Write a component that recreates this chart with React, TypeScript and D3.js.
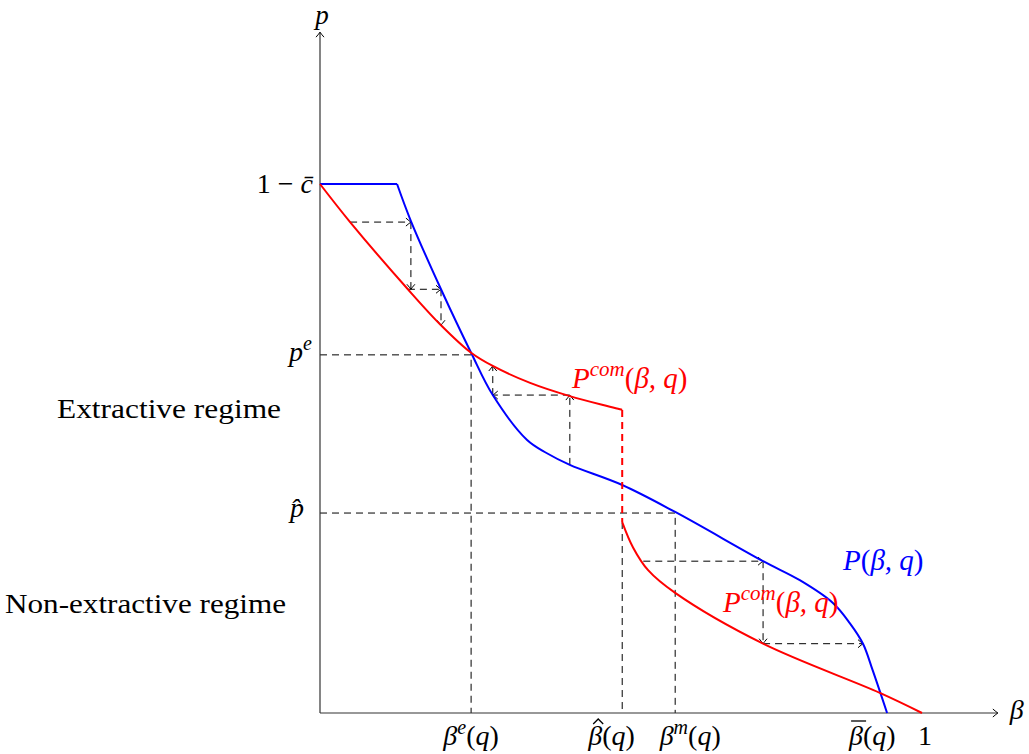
import React from "react";
import * as d3 from "d3";

const width = 1029;
const height = 754;

// beta on x, p on y (1 - c̄ taken as 1)
const blueFlatBeta = [0, 0.128];
const blueFlatP = [1.0, 1.0];
const blueBeta = [0.128, 0.151, 0.201, 0.251, 0.287, 0.344, 0.377, 0.415, 0.502, 0.59, 0.736, 0.797, 0.852, 0.88, 0.902, 0.918, 0.942];
const blueP = [1.0, 0.93, 0.801, 0.681, 0.601, 0.516, 0.491, 0.469, 0.431, 0.38, 0.287, 0.251, 0.208, 0.170, 0.131, 0.081, 0];

const redHighBeta = [0, 0.05, 0.146, 0.201, 0.251, 0.287, 0.349, 0.415, 0.502];
const redHighP = [1.0, 0.928, 0.801, 0.733, 0.681, 0.656, 0.624, 0.599, 0.573];
const redLowBeta = [0.502, 0.52, 0.545, 0.59, 0.736, 0.93, 1.0];
const redLowP = [0.361, 0.313, 0.27, 0.227, 0.131, 0.038, 0];

const pE = 0.677;
const pHat = 0.378;
const betaE = 0.251;
const betaHat = 0.502;
const betaM = 0.59;
const betaBar = 0.942;

// cobweb steps: [beta1, p1, beta2, p2]
const steps = [
    [0.05, 0.928, 0.151, 0.928],
    [0.151, 0.928, 0.151, 0.801],
    [0.146, 0.801, 0.201, 0.801],
    [0.201, 0.801, 0.201, 0.733],
    [0.415, 0.469, 0.415, 0.601],
    [0.415, 0.601, 0.287, 0.601],
    [0.287, 0.601, 0.287, 0.656],
    [0.537, 0.287, 0.736, 0.287],
    [0.736, 0.287, 0.736, 0.131],
    [0.736, 0.131, 0.902, 0.131],
];

const x = d3.scaleLinear().domain([0, 1]).range([320, 922]);
const y = d3.scaleLinear().domain([0, 1]).range([713, 184]);

const straight = d3.line<number[]>().x(d => x(d[0])).y(d => y(d[1]));
const smooth = d3.line<number[]>().x(d => x(d[0])).y(d => y(d[1])).curve(d3.curveCatmullRom.alpha(0.5));

const zip = (a: number[], b: number[]) => a.map((v, i) => [v, b[i]]);

const font = "'Liberation Serif', 'DejaVu Serif', 'Times New Roman', serif";
const dash = "7,5";

function App() {
    const x0 = x(0), y0 = y(0);
    const hatX = x(betaHat) - 34;
    const barX = x(betaBar) - 38;
    return (
        <svg width={width} height={height} style={{position: "absolute", left: 0, top: 0, fontFamily: font}}>
            <defs>
                <marker id="tip" viewBox="-8 -6 10 12" markerWidth={10} markerHeight={12} refX={0} refY={0}
                        orient="auto" markerUnits="userSpaceOnUse">
                    <path d="M -5 -4 Q -1.5 -1 0 0 Q -1.5 1 -5 4" fill="none" stroke="#000" strokeWidth={1}/>
                </marker>
            </defs>

            {/* guides */}
            <g stroke="#000" strokeWidth={1} strokeDasharray={dash} fill="none">
                <path d={straight([[0, pE], [betaE, pE], [betaE, 0]])}/>
                <path d={straight([[0, pHat], [betaM, pHat], [betaM, 0]])}/>
                <path d={straight([[betaHat, redLowP[0]], [betaHat, 0]])}/>
                {steps.map((s, i) => (
                    <path key={i} d={straight([[s[0], s[1]], [s[2], s[3]]])} markerEnd="url(#tip)"/>
                ))}
            </g>

            {/* axes */}
            <g stroke="#333" strokeWidth={1.2} fill="none">
                <path d={`M${x0},${y0}H${x(1.126)}`} markerEnd="url(#tip)"/>
                <path d={`M${x0},${y0}V${y(1.287)}`} markerEnd="url(#tip)"/>
            </g>

            {/* curves */}
            <g fill="none" strokeWidth={2}>
                <path d={straight(zip(blueFlatBeta, blueFlatP))} stroke="#0000ff"/>
                <path d={smooth(zip(blueBeta, blueP))} stroke="#0000ff"/>
                <path d={smooth(zip(redHighBeta, redHighP))} stroke="#ff0000"/>
                <path d={smooth(zip(redLowBeta, redLowP))} stroke="#ff0000"/>
                <path d={straight([[betaHat, redHighP[redHighP.length - 1]], [betaHat, redLowP[0]]])}
                      stroke="#ff0000" strokeDasharray={dash}/>
            </g>

            {/* axis labels */}
            <g fontSize={28} fill="#000">
                <text x={x0 + 2} y={24} textAnchor="middle" fontStyle="italic" fontSize={27}>p</text>
                <text x={x(1.126) + 12} y={y0 + 6} fontStyle="italic">β</text>

                <text x={x0 - 7} y={y(1) + 9} textAnchor="end">1 − <tspan fontStyle="italic">c̄</tspan></text>
                <text x={x0 - 8} y={y(pE) + 6} textAnchor="end">
                    <tspan fontStyle="italic">p</tspan><tspan fontStyle="italic" fontSize={20} dy={-11}>e</tspan>
                </text>
                <text x={x0 - 16} y={y(pHat) + 4} textAnchor="end" fontStyle="italic">p̂</text>

                <text x={57} y={418} textLength={224} lengthAdjust="spacingAndGlyphs">Extractive regime</text>
                <text x={5} y={613} textLength={281} lengthAdjust="spacingAndGlyphs">Non-extractive regime</text>

                <text x={x(betaE)} y={745} textAnchor="middle">
                    <tspan fontStyle="italic">β</tspan><tspan fontStyle="italic" fontSize={20} dy={-11}>e</tspan><tspan dy={11}>(</tspan><tspan fontStyle="italic">q</tspan>)
                </text>
                <text x={hatX} y={745}>
                    <tspan fontStyle="italic">β</tspan>(<tspan fontStyle="italic">q</tspan>)
                </text>
                <path d={`M${hatX + 5},${724}L${hatX + 10},${719}L${hatX + 15},${724}`} fill="none" stroke="#000" strokeWidth={1.3}/>
                <text x={x(betaM) + 15} y={745} textAnchor="middle">
                    <tspan fontStyle="italic">β</tspan><tspan fontStyle="italic" fontSize={20} dy={-11}>m</tspan><tspan dy={11}>(</tspan><tspan fontStyle="italic">q</tspan>)
                </text>
                <text x={barX} y={745}>
                    <tspan fontStyle="italic">β</tspan>(<tspan fontStyle="italic">q</tspan>)
                </text>
                <path d={`M${barX + 2},${721}H${barX + 17}`} stroke="#000" strokeWidth={1.3}/>
                <text x={x(1) + 3} y={745} textAnchor="middle">1</text>
            </g>

            {/* curve labels */}
            <g fontSize={29}>
                <text x={572} y={388} fill="#ff0000">
                    <tspan fontStyle="italic">P</tspan><tspan fontStyle="italic" fontSize={21} dy={-12}>com</tspan><tspan dy={12}>(</tspan><tspan fontStyle="italic">β, q</tspan>)
                </text>
                <text x={723} y={612} fill="#ff0000">
                    <tspan fontStyle="italic">P</tspan><tspan fontStyle="italic" fontSize={21} dy={-12}>com</tspan><tspan dy={12}>(</tspan><tspan fontStyle="italic">β, q</tspan>)
                </text>
                <text x={843} y={570} fill="#0000ff">
                    <tspan fontStyle="italic">P</tspan>(<tspan fontStyle="italic">β, q</tspan>)
                </text>
            </g>
        </svg>
    );
}

export default App;
